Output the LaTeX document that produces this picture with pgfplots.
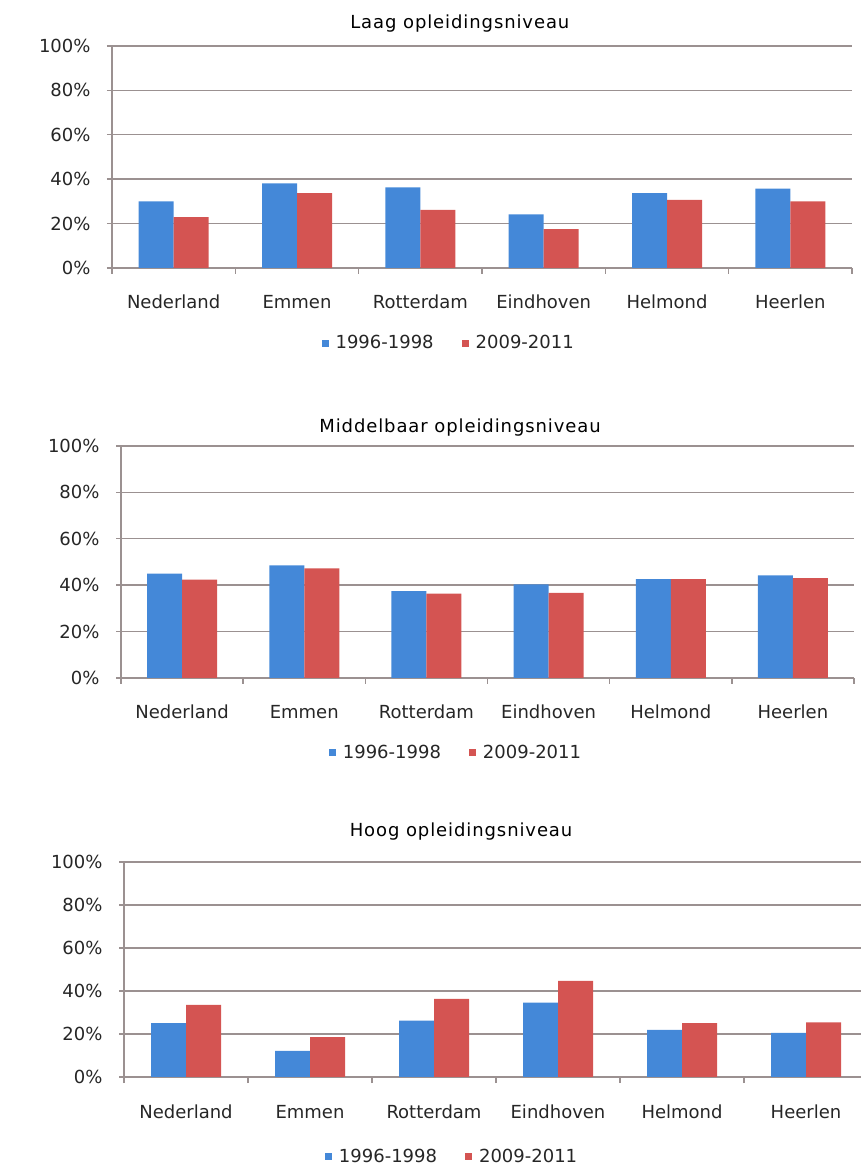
\documentclass[border=0pt]{standalone}
\usepackage{fontspec}
\setmainfont{DejaVu Sans}
\newfontfamily\titlefont[LetterSpace=5]{DejaVu Sans}
\usepackage{pgfplots}
\pgfplotsset{compat=1.18}
\definecolor{cblue}{RGB}{68,136,216}
\definecolor{cred}{RGB}{212,84,82}
\definecolor{cgrid}{RGB}{155,145,145}
\pgfplotsset{
 mychart/.style={
  scale only axis, anchor=south west,
  ybar=0pt, bar width=35pt,
  ymin=0, ymax=100, ytick={0,20,...,100},
  xmin=-0.5, xmax=5.5,
  xtick={0,...,5},
  xticklabels={Nederland,Emmen,Rotterdam,Eindhoven,Helmond,Heerlen},
  minor xtick={-0.5,0.5,...,5.5},
  axis lines*=left,
  axis line style={cgrid, line width=1.4pt},
  ymajorgrids, major grid style={cgrid, line width=1.4pt},
  tick align=outside,
  major tick length=5pt, minor tick length=6pt,
  tick style={cgrid, line width=1.4pt},
  major x tick style={draw=none},
  yticklabel={\pgfmathprintnumber{\tick}\%},
  /pgf/number format/assume math mode=true,
  tick label style={font=\fontsize{18}{22}\selectfont, text=black!85},
  yticklabel style={xshift=-13pt},
  xticklabel style={anchor=base, yshift=-36pt},
  legend columns=2,
  legend style={draw=none, fill=none, font=\fontsize{18}{22}\selectfont, text=black!85,
    /tikz/every even column/.append style={column sep=26pt}},
  legend image code/.code={\fill[##1,draw=none] (0pt,-3.5pt) rectangle (7pt,3.5pt); \path (12pt,0pt);},
  title style={font=\titlefont\fontsize{18}{22}\selectfont, anchor=center},
 }
}
\begin{document}
\begin{tikzpicture}
\useasboundingbox (0,0) rectangle (861pt,1167pt);
\begin{axis}[mychart, at={(112pt,899pt)}, width=740pt, height=222pt,
  title={Laag opleidingsniveau},
  title style={at={(axis description cs:0.47,1)}, yshift=16pt},
  legend style={at={(axis description cs:0.455,-0.338)}, anchor=center}]
\addplot[fill=cblue, draw=none] coordinates {(0,30.0) (1,38.1) (2,36.3) (3,24.1) (4,33.7) (5,35.7)};
\addplot[fill=cred, draw=none] coordinates {(0,22.9) (1,33.7) (2,26.2) (3,17.5) (4,30.7) (5,30.0)};
\legend{1996-1998,2009-2011}
\end{axis}
\begin{axis}[mychart, at={(121pt,489pt)}, width=733pt, height=232pt,
  title={Middelbaar opleidingsniveau},
  title style={at={(axis description cs:0.4625,1)}, yshift=12pt},
  legend style={at={(axis description cs:0.457,-0.323)}, anchor=center}]
\addplot[fill=cblue, draw=none] coordinates {(0,45.0) (1,48.5) (2,37.4) (3,40.4) (4,42.6) (5,44.2)};
\addplot[fill=cred, draw=none] coordinates {(0,42.4) (1,47.2) (2,36.4) (3,36.7) (4,42.6) (5,43.0)};
\legend{1996-1998,2009-2011}
\end{axis}
\begin{axis}[mychart, at={(124pt,90pt)}, width=744pt, height=215pt,
  title={Hoog opleidingsniveau},
  title style={at={(axis description cs:0.453,1)}, yshift=24pt},
  legend style={at={(axis description cs:0.441,-0.372)}, anchor=center}]
\addplot[fill=cblue, draw=none] coordinates {(0,25.1) (1,12.1) (2,26.2) (3,34.6) (4,21.9) (5,20.5)};
\addplot[fill=cred, draw=none] coordinates {(0,33.6) (1,18.6) (2,36.3) (3,44.7) (4,25.1) (5,25.4)};
\legend{1996-1998,2009-2011}
\end{axis}
\end{tikzpicture}
\end{document}
